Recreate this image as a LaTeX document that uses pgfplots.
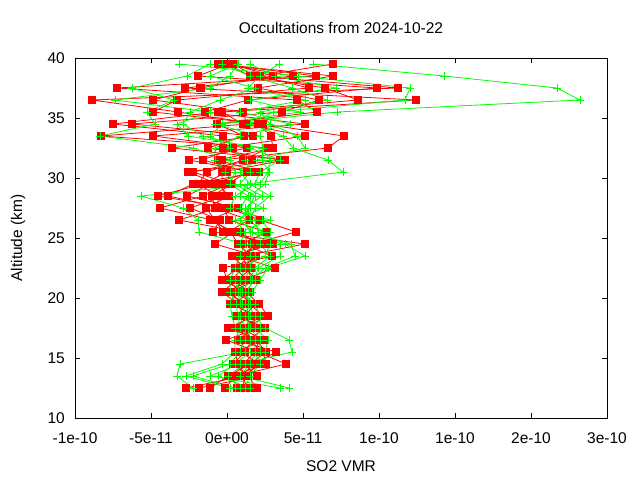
\documentclass[border=0pt]{standalone}
\usepackage{pgfplots}
\pgfplotsset{compat=1.18}
\usepackage{pgfplotstable}
\usepackage{fontspec}
\setmainfont{Liberation Sans}

% SO2 VMR in units of 1e-11, altitude in km
\pgfplotstableread{
alt a b c d e f g h
39.5 -0.33 0.13 -0.59 0.39 -0.46 6.97 0.0 0.26
38.5 4.34 -1.91 6.97 1.84 5.86 2.17 1.51 3.03
37.5 -2.76 9.87 2.04 11.25 -7.24 5.39 6.45 -1.75
36.5 12.43 1.38 6.05 -8.88 4.61 -3.29 8.62 -4.87
35.5 -0.33 -1.45 3.62 -3.22 5.92 -4.87 -0.59 1.05
34.5 1.05 5.13 -6.25 2.04 -0.66 2.37 -7.5 1.32
33.5 5.13 -4.87 1.71 2.89 1.12 7.70 -0.26 -8.29
32.5 -0.26 1.32 -3.62 3.03 -1.25 6.64 0.39 2.70
31.5 1.64 -2.5 3.82 -0.59 3.49 -0.33 -1.58 1.05
30.5 -2.24 1.64 -0.33 2.11 -2.57 0.0 1.32 -1.32
29.5 0.33 -1.12 -0.33 -2.24 -0.59 -1.58 0.07 -1.91
28.5 -0.99 -2.63 -0.2 -3.88 0.13 -4.54 -1.58 -0.59
27.5 -0.79 0.72 -2.43 -0.2 -1.38 0.13 -4.41 -0.59
26.5 1.45 -1.12 -0.46 0.13 -0.79 2.17 -0.99 -3.16
25.5 0.07 0.46 -0.92 2.63 -0.26 4.54 0.26 0.86
24.5 2.5 -0.79 5.13 1.05 3.03 1.64 0.72 1.97
23.5 0.66 1.91 1.05 2.96 0.33 1.38 1.51 0.86
22.5 3.16 0.99 1.32 -0.26 1.18 0.72 1.64 0.53
21.5 0.99 0.33 1.64 0.0 1.97 -0.33 0.66 1.32
20.5 0.46 1.51 -0.07 0.99 0.2 1.25 -0.33 0.72
19.5 1.84 0.46 1.25 1.51 0.99 2.11 0.72 0.2
18.5 1.18 1.78 0.66 2.37 0.92 2.70 1.51 2.04
17.5 1.78 0.07 2.50 0.79 2.11 1.12 0.46 1.45
16.5 0.72 2.17 1.38 2.5 -0.07 1.64 1.91 1.12
15.5 3.22 1.78 2.37 0.53 2.04 1.18 2.57 0.86
14.5 1.84 1.12 2.57 0.72 3.88 0.39 1.51 2.17
13.5 0.86 1.97 0.33 1.25 0.59 1.38 0.07 1.12
12.5 1.45 -1.84 0.66 0.99 -0.13 1.97 -1.12 -2.70
}\reddata

\pgfplotstableread{
alt a b c d e f g h
39.5 5.66 -3.16 -1.12 0.66 3.42 0.72 -0.33 1.51
38.5 14.28 4.67 -2.63 0.2 2.17 -1.12 1.51 3.16
37.5 21.71 12.04 -6.25 -1.12 1.38 1.84 4.28 7.17
36.5 23.22 11.71 -3.49 -7.37 5.13 -0.46 6.58 1.51
35.5 7.24 3.03 -5.26 -1.12 0.86 -2.43 2.17 4.80
34.5 -0.33 1.51 -4.74 -3.29 4.14 -2.89 2.83 -0.79
33.5 -1.12 3.68 -8.36 -2.57 0.86 -1.58 4.61 2.17
32.5 0.2 4.34 -2.24 2.30 -0.79 1.51 5.13 2.37
31.5 1.18 6.64 0.2 2.83 -0.79 3.49 1.97 2.30
30.5 1.51 7.63 0.53 2.70 -0.13 2.17 0.86 2.76
29.5 0.86 1.32 0.2 2.17 0.53 1.84 1.51 2.5
28.5 2.30 0.86 1.38 -5.66 1.84 0.53 2.83 1.51
27.5 1.18 2.37 0.86 -2.89 1.38 0.2 1.84 1.51
26.5 1.84 0.53 2.30 -1.91 1.18 2.83 1.51 0.86
25.5 2.04 1.18 2.83 -1.84 1.51 0.86 2.30 1.64
24.5 3.82 0.86 2.17 1.18 4.21 1.51 3.49 2.83
23.5 5.13 1.51 2.83 0.86 4.47 1.84 3.49 2.5
22.5 2.70 1.18 1.84 0.53 2.5 1.51 2.04 0.86
21.5 2.17 0.86 1.51 0.2 1.64 1.18 1.84 0.53
20.5 1.64 0.53 0.99 0.2 1.38 0.86 1.18 0.72
19.5 1.38 0.2 1.84 0.59 1.18 0.99 1.51 0.86
18.5 1.84 0.33 2.17 0.72 1.51 0.86 1.18 1.38
17.5 2.5 0.53 1.84 0.86 2.17 1.18 1.51 1.38
16.5 4.08 0.86 2.70 0.53 1.84 1.18 2.17 1.51
15.5 4.28 1.18 2.5 0.53 1.84 0.86 2.17 1.51
14.5 0.86 -3.09 1.51 -0.33 2.17 0.2 1.18 0.53
13.5 -1.12 -3.29 0.86 -2.70 1.51 -2.24 0.07 -0.59
12.5 3.49 -2.24 4.08 0.2 1.18 0.53 0.86 1.51
}\greendata

\definecolor{gpred}{RGB}{255,0,0}
\definecolor{gpgreen}{RGB}{0,255,0}

\begin{document}
\begin{tikzpicture}
\begin{axis}[
  at={(0,0)}, anchor=south west,
  scale only axis, width=532bp, height=360bp,
  xmin=-10, xmax=25, ymin=10, ymax=40,
  xtick={-10,-5,0,5,10,15,20,25},
  xticklabels={-1e-10,-5e-11,0e+00,5e-11,1e-10,1e-10,2e-10,3e-10},
  ytick={10,15,20,25,30,35,40},
  yticklabels={10,15,20,25,30,35,40},
  tick align=inside, major tick length=5bp,
  tick style={black, line width=0.8bp},
  axis line style={black, line width=0.8bp},
  font=\fontsize{15.5bp}{18bp}\selectfont,
  xticklabel style={anchor=base, yshift=-25bp},
  yticklabel style={anchor=east, inner sep=0pt, xshift=-10bp},
  every axis title shift=0pt,
  title={Occultations from 2024-10-22},
  title style={at={(axis description cs:0.5,1.0667)}, anchor=base},
  xlabel={SO2 VMR},
  xlabel style={at={(axis description cs:0.5,-0.15)}, anchor=base},
  ylabel={Altitude (km)},
  ylabel style={at={(axis description cs:-0.0996,0.5)}, anchor=base},
]
\pgfplotsinvokeforeach{a,b,c,d,e,f,g,h}{
  \addplot[gpred, line width=0.8bp, mark=square*, mark size=3.6bp,
    mark options={solid, fill=gpred, draw=gpred}]
    table[x=#1, y=alt]{\reddata};
}
\pgfplotsinvokeforeach{a,b,c,d,e,f,g,h}{
  \addplot[gpgreen, line width=0.8bp, mark=+, mark size=3.6bp,
    mark options={solid, line width=0.8bp}]
    table[x=#1, y=alt]{\greendata};
}
\end{axis}
\pgfresetboundingbox
\path (-75bp,-62bp) rectangle (565bp,418bp);
\end{tikzpicture}
\end{document}
